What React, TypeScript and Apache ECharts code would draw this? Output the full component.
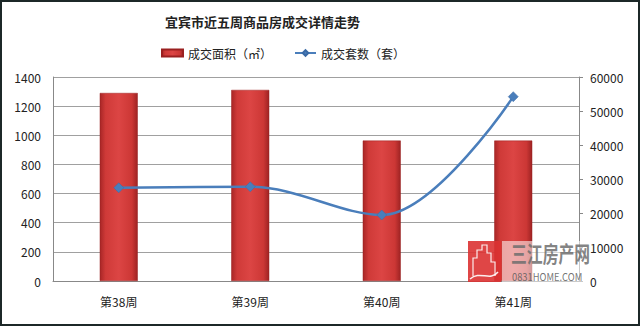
import React, { useEffect, useRef } from "react";
import * as echarts from "echarts";

const categories = ["第38周", "第39周", "第40周", "第41周"];
const areaValues = [55300, 56200, 41300, 41300]; // 成交面积（㎡） right axis
const unitValues = [640, 647, 453, 1265]; // 成交套数（套） left axis
const leftTicks = { min: 0, max: 1400, interval: 200 };
const rightTicks = { min: 0, max: 60000, interval: 10000 };

const FONT = "'Noto Sans CJK SC', 'Noto Sans', sans-serif";

export default function App() {
  const ref = useRef<HTMLDivElement>(null);
  useEffect(() => {
    if (!ref.current) return;
    const chart = echarts.init(ref.current, undefined, { renderer: "svg" });
    const barGrad = new echarts.graphic.LinearGradient(0, 0, 1, 0, [
      { offset: 0, color: "#a82626" },
      { offset: 0.15, color: "#cf3a38" },
      { offset: 0.5, color: "#dc4544" },
      { offset: 0.85, color: "#cc3735" },
      { offset: 1, color: "#9e2323" },
    ]);
    chart.setOption({
      animation: false,
      backgroundColor: "#ffffff",
      textStyle: { fontFamily: FONT },
      title: {
        text: "宜宾市近五周商品房成交详情走势",
        left: 160,
        top: 10,
        textStyle: { fontSize: 13, fontWeight: "bold", color: "#222", fontFamily: FONT },
      },
      legend: {
        left: 156,
        top: 42,
        itemWidth: 21,
        itemHeight: 7,
        itemGap: 22,
        textStyle: { fontSize: 12, color: "#222", fontFamily: FONT },
        data: [
          { name: "成交面积（㎡）", icon: "rect" },
          { name: "成交套数（套）" },
        ],
      },
      grid: { left: 53, right: 61, top: 77, bottom: 45, containLabel: false },
      xAxis: {
        type: "category",
        data: categories,
        axisLine: { lineStyle: { color: "#888", width: 1 } },
        axisTick: { show: false },
        axisLabel: { color: "#222", fontSize: 12, margin: 14, fontFamily: FONT },
      },
      yAxis: [
        {
          type: "value",
          min: leftTicks.min,
          max: leftTicks.max,
          interval: leftTicks.interval,
          position: "left",
          axisLine: { show: true, lineStyle: { color: "#888" } },
          axisTick: { show: false },
          axisLabel: {
            color: "#222",
            fontSize: 12,
            margin: 12,
            fontFamily: FONT,
            formatter: (v: number) => String(v),
          },
          splitLine: { show: true, lineStyle: { color: "#a0a0a0", width: 1 } },
        },
        {
          type: "value",
          min: rightTicks.min,
          max: rightTicks.max,
          interval: rightTicks.interval,
          position: "right",
          axisLine: { show: true, lineStyle: { color: "#888" } },
          axisTick: { show: true, length: 4, lineStyle: { color: "#888" } },
          axisLabel: {
            color: "#222",
            fontSize: 12,
            margin: 11,
            fontFamily: FONT,
            formatter: (v: number) => String(v),
          },
          splitLine: { show: false },
        },
      ],
      series: [
        {
          name: "成交面积（㎡）",
          type: "bar",
          yAxisIndex: 1,
          data: areaValues,
          barWidth: 38,
          itemStyle: { color: barGrad, borderColor: "#9a2020", borderWidth: 0.5 },
          z: 2,
        },
        {
          name: "成交套数（套）",
          type: "line",
          yAxisIndex: 0,
          data: unitValues,
          smooth: 0.35,
          symbol: "diamond",
          symbolSize: 10,
          lineStyle: { color: "#4a7ebb", width: 2.5 },
          itemStyle: { color: "#4a7ebb", borderColor: "#3a6aa5", borderWidth: 0.5 },
          z: 3,
        },
      ],
      graphic: [
        {
          type: "rect",
          shape: { x: 1, y: 1, width: 638, height: 324 },
          style: { fill: "none", stroke: "#1c2828", lineWidth: 2 },
          z: 100,
        },
        {
          type: "rect",
          shape: { x: 502, y: 241, width: 86, height: 43 },
          style: { fill: "rgba(255,255,255,0.55)" },
          z: 90,
        },
        {
          type: "rect",
          shape: { x: 468, y: 241, width: 33, height: 41 },
          style: { fill: "rgba(220,50,50,0.9)" },
          z: 91,
        },
        {
          type: "polyline",
          shape: {
            points: [
              [473, 276], [473, 258], [477, 258], [477, 250], [482, 250], [482, 245],
              [487, 245], [487, 253], [491, 253], [491, 262], [495, 262], [495, 276],
            ],
          },
          style: { fill: "none", stroke: "rgba(255,255,255,0.9)", lineWidth: 1.2 },
          z: 92,
        },
        {
          type: "bezierCurve",
          shape: { x1: 470, y1: 279, x2: 498, y2: 272, cpx1: 480, cpy1: 270, cpx2: 490, cpy2: 282 },
          style: { fill: "none", stroke: "rgba(255,255,255,0.9)", lineWidth: 1.5 },
          z: 92,
        },
        {
          type: "text",
          x: 511,
          y: 242,
          scaleX: 0.72,
          style: {
            text: "三江房产网",
            fontSize: 22,
            fontWeight: "bold",
            fill: "rgba(110,110,110,0.85)",
            fontFamily: FONT,
          },
          z: 93,
        },
        {
          type: "text",
          x: 512,
          y: 271,
          scaleX: 0.85,
          style: {
            text: "0831HOME.COM",
            fontSize: 11,
            fill: "rgba(90,90,90,0.85)",
            fontFamily: FONT,
          },
          z: 93,
        },
      ],
    });
    return () => chart.dispose();
  }, []);
  return (
    <div
      ref={ref}
      style={{ position: "fixed", left: 0, top: 0, width: 640, height: 326 }}
    />
  );
}
